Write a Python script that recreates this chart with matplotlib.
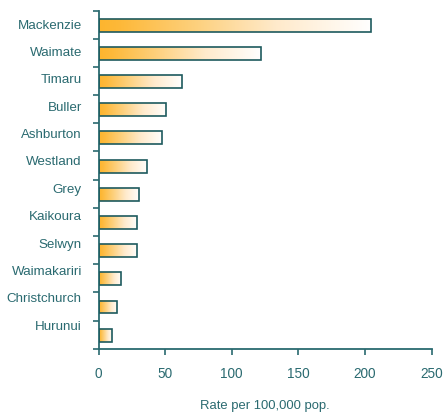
import numpy as np
import matplotlib
matplotlib.use("Agg")
import matplotlib.pyplot as plt
from matplotlib.colors import LinearSegmentedColormap
from matplotlib.patches import Rectangle

categories = ["Mackenzie", "Waimate", "Timaru", "Buller", "Ashburton", "Westland",
              "Grey", "Kaikoura", "Selwyn", "Waimakariri", "Christchurch", "Hurunui"]
values = [204.6, 122.0, 63.0, 50.8, 47.4, 36.2, 30.1, 28.7, 28.7, 16.9, 14.1, 10.1]
xticks = [0, 50, 100, 150, 200, 250]
xlabel = "Rate per 100,000 pop."

plt.rcParams['font.family'] = ['Liberation Sans', 'DejaVu Sans']
teal = '#2A6A70'
edge = '#1E5A5E'

fig = plt.figure(figsize=(4.43, 4.12), dpi=100)
ax = fig.add_axes([98.5/443, 1-348.7/412, 333/443, 338.2/412])

cmap = LinearSegmentedColormap.from_list(
    "g", [(0.0, "#FDB52E"), (0.08, "#FDB93A"), (0.35, "#FDD07C"),
          (0.65, "#FFEACB"), (1.0, "#FFFFFF")])
grad = np.linspace(0, 1, 256).reshape(1, -1)
n = len(categories)
ypos = np.arange(n)[::-1] + 0.5
h = 0.46
for y, v in zip(ypos, values):
    ax.imshow(grad, cmap=cmap, aspect='auto', extent=[0, v, y - h/2 - 0.02, y + h/2 - 0.02],
              interpolation='bilinear', zorder=2)
    ax.add_patch(Rectangle((0, y - h/2 - 0.02), v, h, fill=False, edgecolor=edge, lw=1.2, zorder=3))

ax.set_xlim(0, 250)
ax.set_ylim(0, n)
for s in ['top', 'right']:
    ax.spines[s].set_visible(False)
for s in ['left', 'bottom']:
    ax.spines[s].set_color(teal)
    ax.spines[s].set_linewidth(1.3)

ax.set_xticks(xticks)
ax.set_xticklabels([str(t) for t in xticks])
ax.tick_params(axis='x', direction='out', length=4, width=1.2, color=teal,
               labelcolor=teal, labelsize=9.8, pad=9)

# tick marks at band boundaries, labels slightly offset as in reference
ax.set_yticks(np.arange(n + 1), minor=True)
ax.tick_params(axis='y', which='minor', direction='out', length=4, width=1.2, color=teal)
label_pos = 0.84 + (ypos - 0.5) * 0.97
ax.set_yticks(label_pos)
ax.set_yticklabels(categories)
ax.tick_params(axis='y', which='major', length=0, labelcolor=teal, labelsize=9.6, pad=12)

ax.set_xlabel(xlabel, color=teal, fontsize=9.4, va='center')
ax.xaxis.set_label_coords(0.5, -0.169)

fig.savefig("out.png", dpi=100)
